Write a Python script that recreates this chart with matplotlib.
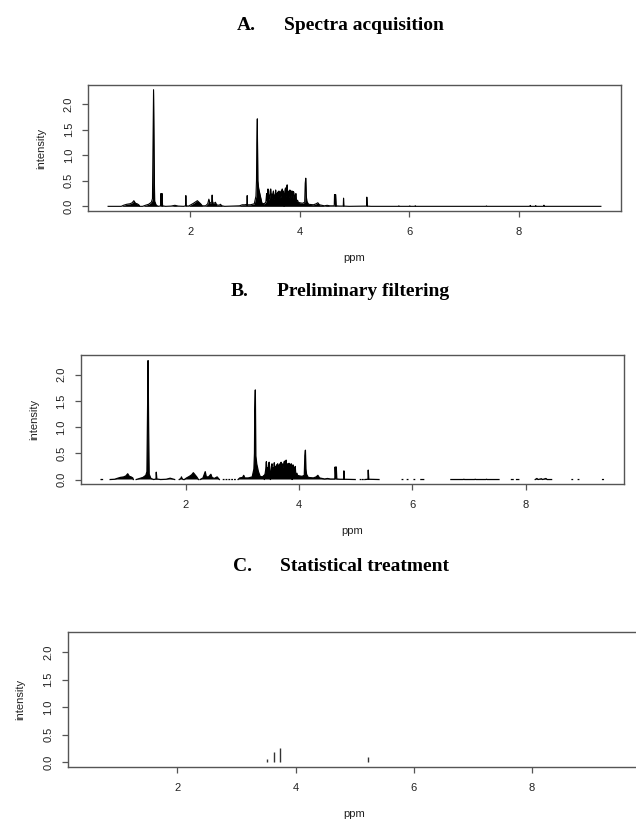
import numpy as np
import matplotlib
matplotlib.use("Agg")
import matplotlib.pyplot as plt

nan = np.nan

# ---------------- data ----------------
titles_letter = ["A.", "B.", "C."]
titles_text = ["Spectra acquisition", "Preliminary filtering", "Statistical treatment"]
xticks = [2, 4, 6, 8]
yticks = [0.0, 0.5, 1.0, 1.5, 2.0]
ytick_labels = ["0.0", "0.5", "1.0", "1.5", "2.0"]

# Panel A: spectrum envelope (ppm, intensity)
A_ppm = [0.50, 0.74, 0.78, 0.84, 0.90, 0.94, 0.97, 1.00, 1.03, 1.06, 1.08,
         1.13, 1.18, 1.24, 1.29, 1.31, 1.32, 1.33, 1.34, 1.35, 1.38, 1.42,
         1.46, 1.465, 1.475, 1.485, 1.495, 1.55, 1.65, 1.72, 1.78, 1.88,
         1.915, 1.92, 1.925, 1.97, 2.01, 2.06, 2.10, 2.13, 2.16, 2.19, 2.22,
         2.28, 2.32, 2.34, 2.36, 2.39, 2.40, 2.41, 2.44, 2.46, 2.48, 2.53, 2.55, 2.58, 2.63,
         2.90, 2.95, 3.00, 3.035, 3.04, 3.045, 3.10, 3.17, 3.20, 3.21, 3.215, 3.225,
         3.235, 3.25, 3.28, 3.31, 3.35,
         3.38, 3.395, 3.40, 3.41, 3.42, 3.43, 3.44, 3.45, 3.46, 3.47, 3.48, 3.49,
         3.50, 3.51, 3.52, 3.53, 3.54, 3.55, 3.56, 3.57, 3.58, 3.59, 3.60, 3.61,
         3.62, 3.63, 3.64, 3.65, 3.66, 3.67, 3.68, 3.69, 3.70, 3.71, 3.714, 3.718,
         3.73, 3.74, 3.75, 3.76, 3.77, 3.78, 3.79, 3.80, 3.81, 3.82, 3.83, 3.84,
         3.85, 3.86, 3.87, 3.88, 3.89, 3.90, 3.91, 3.92, 3.93, 3.94, 3.96, 3.97,
         4.00, 4.05,
         4.09, 4.10, 4.11, 4.12, 4.13, 4.16, 4.25, 4.30, 4.33, 4.36, 4.45, 4.50,
         4.55, 4.63, 4.635, 4.645, 4.655, 4.665, 4.72, 4.795, 4.80, 4.805, 4.90,
         5.22, 5.225, 5.235, 5.30, 5.80, 5.81, 5.82, 6.00, 6.01, 6.02, 6.10, 6.11,
         6.12, 7.40, 7.41, 7.42, 8.20, 8.21, 8.22, 8.30, 8.31, 8.32, 8.45, 8.46,
         8.47, 9.50]
A_int = [0.0, 0.0, 0.02, 0.04, 0.05, 0.07, 0.11, 0.06, 0.05, 0.03, 0.0,
         0.0, 0.02, 0.04, 0.08, 0.15, 1.2, 2.28, 1.0, 0.1, 0.02, 0.0,
         0.01, 0.25, 0.02, 0.25, 0.01, 0.0, 0.005, 0.02, 0.005, 0.0,
         0.01, 0.21, 0.01, 0.005, 0.03, 0.06, 0.09, 0.11, 0.08, 0.05, 0.01,
         0.01, 0.05, 0.14, 0.06, 0.08, 0.22, 0.07, 0.06, 0.08, 0.03, 0.02, 0.04, 0.01, 0.0,
         0.01, 0.03, 0.03, 0.04, 0.21, 0.03, 0.03, 0.05, 0.2, 0.5, 1.2, 1.71,
         0.5, 0.35, 0.2, 0.06, 0.05,
         0.08, 0.25, 0.12, 0.20, 0.34, 0.12, 0.22, 0.15, 0.30, 0.34, 0.13, 0.24,
         0.16, 0.26, 0.30, 0.14, 0.22, 0.16, 0.32, 0.15, 0.25, 0.17, 0.28, 0.20,
         0.30, 0.16, 0.27, 0.18, 0.30, 0.20, 0.34, 0.17, 0.30, 0.19, 0.0, 0.19,
         0.32, 0.36, 0.20, 0.35, 0.42, 0.20, 0.30, 0.18, 0.28, 0.32, 0.16, 0.30,
         0.20, 0.30, 0.15, 0.29, 0.28, 0.13, 0.22, 0.18, 0.25, 0.10, 0.12, 0.08,
         0.07, 0.06,
         0.08, 0.45, 0.55, 0.2, 0.1, 0.04, 0.03, 0.05, 0.07, 0.03, 0.01, 0.02,
         0.01, 0.01, 0.23, 0.05, 0.23, 0.01, 0.005, 0.005, 0.16, 0.005, 0.0,
         0.005, 0.18, 0.005, 0.0, 0.0, 0.01, 0.0, 0.0, 0.01, 0.0, 0.0, 0.012,
         0.0, 0.0, 0.008, 0.0, 0.0, 0.018, 0.0, 0.0, 0.015, 0.0, 0.0, 0.022,
         0.0, 0.0]

# Panel B: filtered spectrum, NaN marks removed regions
B_ppm = [0.50, 0.505, nan, 0.52, 0.525, nan,
         0.66, 0.74, 0.78, 0.84, 0.90, 0.94, 0.97, 1.00, 1.03, 1.06, 1.07, nan,
         1.12, 1.18, 1.24, 1.29, 1.31, 1.32, 1.33, 1.34, 1.35, 1.38, 1.43, 1.47,
         1.475, 1.485, 1.55, 1.65, 1.72, 1.78, 1.80, nan,
         1.88, 1.91, 1.92, 1.93, 1.95, nan,
         1.97, 2.01, 2.06, 2.10, 2.13, 2.16, 2.19, 2.22, nan,
         2.25, 2.30, 2.34, 2.36, 2.40, 2.44, 2.46, 2.50, 2.55, 2.58, 2.59, nan,
         2.66, 2.67, nan, 2.71, 2.72, nan, 2.76, 2.77, nan, 2.81, 2.82, nan, 2.86, 2.87, nan,
         2.92, 2.95, 3.00, 3.02, 3.04, 3.10, 3.17, 3.20, 3.21, 3.215, 3.225, 3.235,
         3.25, 3.28, 3.31, 3.35,
         3.38, 3.385, 3.39, 3.40, 3.41, 3.42, 3.43, 3.44, 3.45, 3.46, 3.47, 3.48,
         3.49, 3.492, 3.50, 3.51, 3.52, 3.53, 3.54, 3.55, 3.56, 3.57, 3.58, 3.59,
         3.60, 3.61, 3.62, 3.63, 3.64, 3.65, 3.66, 3.67, 3.68, 3.69, 3.70, 3.71,
         3.73, 3.74, 3.75, 3.76, 3.77, 3.78, 3.79, 3.80, 3.81, 3.82, 3.83, 3.84,
         3.85, 3.86, 3.87, 3.875, 3.88, 3.89, 3.90, 3.91, 3.92, 3.93, 3.94, 3.96,
         3.97, 4.00, 4.05,
         4.09, 4.10, 4.11, 4.12, 4.13, 4.16, 4.25, 4.30, 4.33, 4.36, 4.45, 4.50,
         4.55, 4.63, 4.635, 4.645, 4.655, 4.665, 4.72, 4.785, 4.79, 4.795, 4.99, nan,
         5.08, 5.09, nan, 5.12, 5.13, nan,
         5.16, 5.215, 5.22, 5.23, 5.41, nan,
         5.82, 5.83, nan, 5.91, 5.92, nan, 6.03, 6.04, nan, 6.15, 6.20, nan,
         6.68, 6.90, 6.91, 6.92, 7.10, 7.11, 7.12, 7.30, 7.31, 7.32, 7.53, nan,
         7.75, 7.78, nan, 7.84, 7.88, nan,
         8.17, 8.20, 8.22, 8.28, 8.30, 8.36, 8.38, 8.46, nan,
         8.82, 8.83, nan, 8.93, 8.94, nan, 9.36, 9.375]
B_int = [0.0, 0.0, nan, 0.0, 0.0, nan,
         0.0, 0.005, 0.02, 0.04, 0.05, 0.07, 0.11, 0.06, 0.05, 0.03, 0.0, nan,
         0.0, 0.02, 0.04, 0.08, 0.15, 1.2, 2.27, 1.0, 0.1, 0.02, 0.0, 0.01,
         0.14, 0.01, 0.0, 0.005, 0.025, 0.005, 0.0, nan,
         0.0, 0.02, 0.05, 0.02, 0.0, nan,
         0.0, 0.03, 0.06, 0.09, 0.13, 0.09, 0.05, 0.0, nan,
         0.0, 0.03, 0.15, 0.05, 0.05, 0.10, 0.04, 0.02, 0.05, 0.01, 0.0, nan,
         0.0, 0.0, nan, 0.0, 0.0, nan, 0.0, 0.0, nan, 0.0, 0.0, nan, 0.0, 0.0, nan,
         0.0, 0.03, 0.04, 0.08, 0.03, 0.03, 0.05, 0.2, 0.5, 1.32, 1.71, 0.45,
         0.3, 0.15, 0.06, 0.05,
         0.08, 0.0, 0.08, 0.12, 0.20, 0.34, 0.12, 0.22, 0.15, 0.30, 0.33, 0.13,
         0.14, 0.0, 0.16, 0.26, 0.30, 0.14, 0.22, 0.16, 0.32, 0.15, 0.25, 0.17,
         0.28, 0.20, 0.30, 0.16, 0.27, 0.18, 0.30, 0.20, 0.33, 0.17, 0.30, 0.19,
         0.32, 0.35, 0.20, 0.33, 0.37, 0.20, 0.30, 0.18, 0.28, 0.31, 0.16, 0.29,
         0.20, 0.30, 0.15, 0.0, 0.15, 0.28, 0.13, 0.22, 0.18, 0.25, 0.10, 0.12,
         0.08, 0.07, 0.06,
         0.08, 0.45, 0.56, 0.2, 0.1, 0.04, 0.03, 0.05, 0.08, 0.03, 0.01, 0.02,
         0.01, 0.01, 0.24, 0.05, 0.24, 0.01, 0.005, 0.005, 0.165, 0.005, 0.0, nan,
         0.0, 0.0, nan, 0.0, 0.0, nan,
         0.0, 0.005, 0.18, 0.005, 0.0, nan,
         0.0, 0.0, nan, 0.0, 0.0, nan, 0.0, 0.0, nan, 0.0, 0.0, nan,
         0.0, 0.0, 0.006, 0.0, 0.0, 0.006, 0.0, 0.0, 0.006, 0.0, 0.0, nan,
         0.0, 0.0, nan, 0.0, 0.0, nan,
         0.0, 0.02, 0.0, 0.015, 0.0, 0.02, 0.0, 0.0, nan,
         0.0, 0.0, nan, 0.0, 0.0, nan, 0.0, 0.0]

# Panel C: selected variables
C_ppm = [3.51, 3.63, 3.73, 5.22]
C_int = [0.06, 0.18, 0.255, 0.10]

# ---------------- layout helpers ----------------
W, H = 636, 823
fig = plt.figure(figsize=(W / 100, H / 100), dpi=100)
plt.rcParams['font.family'] = ['Liberation Sans', 'DejaVu Sans']


def rect(left, right, top, bottom):
    return [left / W, 1 - bottom / H, (right - left) / W, (bottom - top) / H]


def r_lim(vals):
    v = np.asarray(vals, dtype=float)
    lo, hi = np.nanmin(v), np.nanmax(v)
    ext = 0.04 * (hi - lo)
    return lo - ext, hi + ext


panels = [
    dict(box=(88.4, 620.6, 85, 211), title_y=29.5, letter_x=236.5, text_x=284),
    dict(box=(81.0, 623.5, 355.3, 484.3), title_y=296, letter_x=230.4, text_x=277),
    dict(box=(67.7, 641.4, 631.7, 767.3), title_y=571, letter_x=232.5, text_x=280),
]

spine_col = '#555555'
ylims = r_lim([0.0] + A_int)

for i, p in enumerate(panels):
    l, r, t, b = p['box']
    ax = fig.add_axes(rect(l, r, t, b))
    if i == 0:
        x = np.array(A_ppm); y = np.array(A_int)
        ax.fill_between(x, 0, y, color='black', linewidth=0)
        ax.plot(x, y, color='black', lw=0.8)
        ax.set_xlim(*r_lim(A_ppm))
    elif i == 1:
        x = np.array(B_ppm); y = np.array(B_int)
        ax.fill_between(x, 0, y, color='black', linewidth=0)
        ax.plot(x, y, color='black', lw=0.9)
        ax.set_xlim(*r_lim(B_ppm))
    else:
        ax.vlines(C_ppm, 0, C_int, color='#333333', lw=1.0)
        ax.set_xlim(*r_lim(A_ppm))
    ax.set_ylim(*ylims)
    ax.set_xticks(xticks)
    ax.set_xticklabels([str(v) for v in xticks])
    ax.set_yticks(yticks)
    ax.set_yticklabels(ytick_labels)
    for s in ax.spines.values():
        s.set_color(spine_col)
        s.set_linewidth(1.0)
    ax.tick_params(axis='both', direction='out', length=6 / 1.389, width=0.9,
                   color=spine_col, labelsize=8, labelcolor='#222222')
    ax.tick_params(axis='y', pad=(19.5 - 6) / 1.389, labelrotation=90)
    ax.tick_params(axis='x', pad=(21 - 6) / 1.389)
    plt.setp(ax.get_yticklabels(), ha='center', va='center')
    plt.setp(ax.get_xticklabels(), va='center')

    # axis labels (R style)
    fig.text((l - 47) / W, 1 - ((t + b) / 2) / H, 'intensity', rotation=90,
             ha='center', va='center', fontsize=8, color='#222222')
    fig.text(((l + min(r, 641.4)) / 2) / W, 1 - (b + 47) / H, 'ppm',
             ha='center', va='center', fontsize=8, color='#222222')

    # titles
    fig.text(p['letter_x'] / W, 1 - p['title_y'] / H, titles_letter[i],
             ha='left', va='baseline', fontsize=14, fontweight='bold',
             family='Liberation Serif')
    fig.text(p['text_x'] / W, 1 - p['title_y'] / H, titles_text[i],
             ha='left', va='baseline', fontsize=14, fontweight='bold',
             family='Liberation Serif')

fig.savefig('out.png', dpi=100)
